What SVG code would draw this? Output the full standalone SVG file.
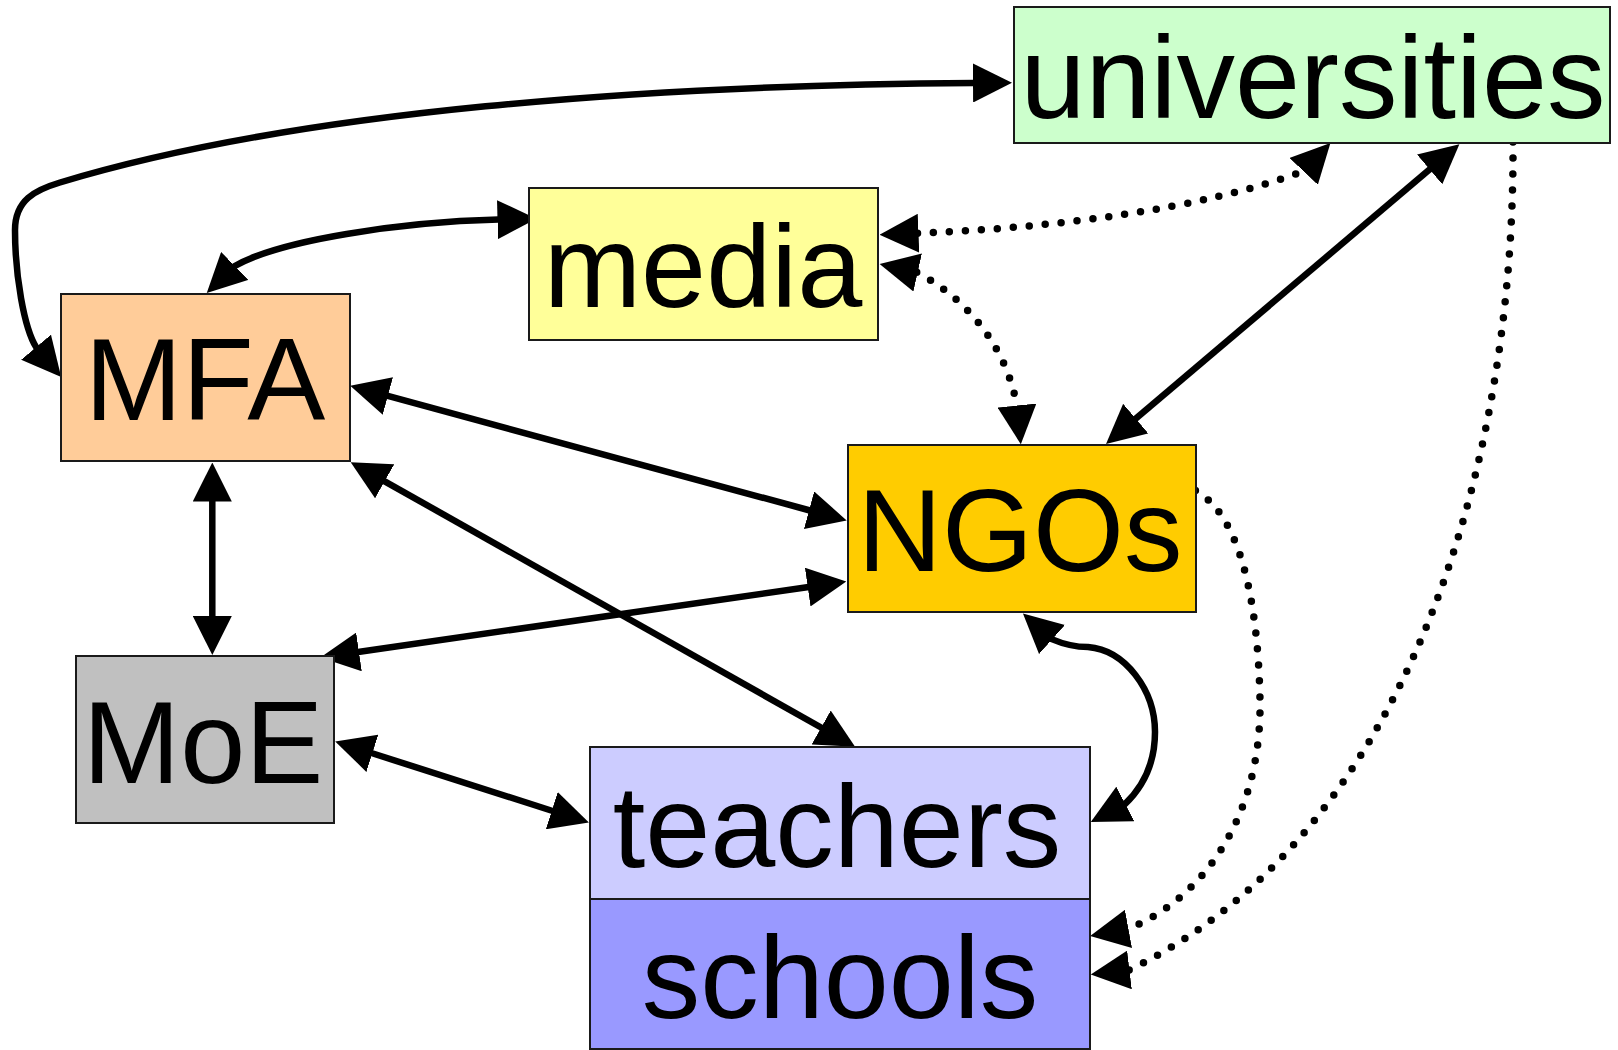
<svg xmlns="http://www.w3.org/2000/svg" width="1618" height="1050" viewBox="0 0 1618 1050">
<style>
.box{stroke:#1a1a1a;stroke-width:2}
.lbl{font-family:"Liberation Sans",Arial,sans-serif;font-size:117px;fill:#000;text-anchor:middle}
.c{fill:none;stroke:#000;stroke-width:6.5;marker-end:url(#ah)}
.b{marker-start:url(#ah)}
.d{stroke-width:7.5;stroke-dasharray:0 16;stroke-linecap:round}
</style>
<defs>
<marker id="ah" viewBox="0 0 39 39" refX="1" refY="19.5" markerWidth="39" markerHeight="39" markerUnits="userSpaceOnUse" orient="auto-start-reverse">
<path d="M0,0 L39,19.5 L0,39 Z" fill="#000"/>
</marker>
</defs>
<rect width="1618" height="1050" fill="#fff"/>
<g id="connectors">
<path class="c b" d="M36.7,348 l-0.32,-0.38 C24,328 15,275 15,230 C15,200 35,190 60,182.5 C300,110 650,85 974,83"/>
<path class="c b" d="M234,266.6 l0.36,-0.35 C280,240 400,222 498.5,219.6"/>
<path class="c b d" d="M917.5,233.3 C1050,228 1200,210 1304,171 l0.34,-0.36"/>
<path class="c b d" d="M916.7,272.3 l0.49,0.11 C960,295 1005,340 1017,406 l0.05,0.5"/>
<path class="c b" d="M1430.4,168.8 L1135,419.3"/>
<path class="c d" d="M1513,142 C1515,480 1400,840 1129,970 l-0.5,0.06"/>
<path class="c d" d="M1195.4,490.5 C1240,515 1258,600 1260,700 C1262,820 1200,900 1128,929 l-0.49,0.09"/>
<path class="c b" d="M1051.3,638.8 l0.37,0.33 Q1070,647 1088,647 C1125,650 1155,690 1155,732 C1155,760 1145,785 1124.9,804.2 l-0.44,0.23"/>
<path class="c b" d="M386.9,395.7 L810,510.5"/>
<path class="c b" d="M212.3,500.5 L212.3,617"/>
<path class="c b" d="M383.8,480.8 L822,728"/>
<path class="c b" d="M808.7,587 L358,652"/>
<path class="c b" d="M371.4,753 L552.7,811"/>
</g>
<g id="node-MFA">
<rect class="box" x="61" y="294" width="289" height="167" fill="#FFCC99"/>
<text class="lbl" x="205" y="420">MFA</text>
</g>
<g id="node-media">
<rect class="box" x="529" y="188" width="349" height="152" fill="#FFFF99"/>
<text class="lbl" x="703" y="307">media</text>
</g>
<g id="node-universities">
<rect class="box" x="1014" y="7" width="596" height="136" fill="#CCFFCC"/>
<text class="lbl" x="1313" y="118">universities</text>
</g>
<g id="node-NGOs">
<rect class="box" x="848" y="445" width="348" height="167" fill="#FFCC00"/>
<text class="lbl" x="1020" y="571">NGOs</text>
</g>
<g id="node-MoE">
<rect class="box" x="76" y="656" width="258" height="167" fill="#C0C0C0"/>
<text class="lbl" x="203" y="783">MoE</text>
</g>
<g id="node-teachers">
<rect class="box" x="590" y="747" width="500" height="152" fill="#CCCCFF"/>
<text class="lbl" x="837" y="866.5">teachers</text>
</g>
<g id="node-schools">
<rect class="box" x="590" y="899" width="500" height="150" fill="#9999FF"/>
<text class="lbl" x="840" y="1018">schools</text>
</g>
</svg>
